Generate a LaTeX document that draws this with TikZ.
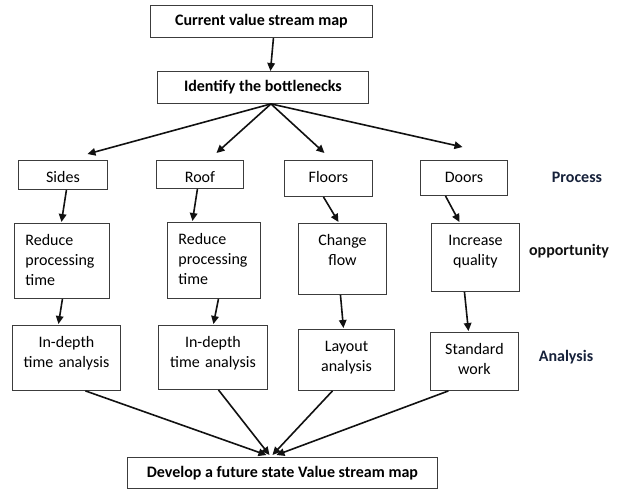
\documentclass[tikz,border=0pt]{standalone}
\usepackage{fontspec}
\setmainfont{Carlito}
\usetikzlibrary{arrows.meta}
\definecolor{Ink}{HTML}{111111}
\definecolor{Frame}{HTML}{3C3C3C}
\definecolor{Navy}{HTML}{16213A}

\begin{document}
\begin{tikzpicture}[x=1pt,y=-1pt,
          font=\fontsize{16}{20}\selectfont,
          box/.style={draw=Frame,line width=0.9pt,anchor=north west,align=center,
            inner xsep=0pt,inner ysep=6pt,text height=16pt},
          headbox/.style={draw=Frame,line width=0.9pt,anchor=north west,
            minimum height=32pt,font=\fontsize{16}{20}\selectfont\bfseries},
          side/.style={font=\fontsize{16}{20}\selectfont\bfseries,text=Navy},
          flow/.style={-{Triangle[length=8pt,width=7.5pt]},draw=Ink,line width=1.6pt}]
        \useasboundingbox (0,0) rectangle (617,489);
        % top of the chart
        \node[headbox,minimum width=222pt] (cur) at (150,5) {Current value stream map};
        \node[headbox,minimum width=211pt] (ident) at (157,71) {Identify the bottlenecks};
        % process row
        \node[box,text width=89pt,text depth=1pt] (sides) at (18,160) {Sides};
        \node[box,text width=87pt,text depth=0pt] (roof) at (156,160) {Roof};
        \node[box,text width=88pt,text depth=8pt] (floors) at (284,160) {Floors};
        \node[box,text width=87pt,text depth=7pt] (doors) at (420,160) {Doors};
        \node[side] (lproc) at (577,177) {Process};
        % opportunity row
        \node[box,align=left,text width=73pt,inner xsep=11pt,text depth=47pt] (red1)
          at (14,223) {Reduce\\processing\\time};
        \node[box,align=left,text width=71pt,inner xsep=11pt,text depth=48pt] (red2)
          at (167,222) {Reduce\\processing\\time};
        \node[box,text width=88pt,text depth=43pt] (change) at (298,223) {Change\\flow};
        \node[box,text width=88pt,text depth=40pt] (incr) at (431,223) {Increase\\quality};
        \node[side,text=Ink] (lopp) at (569,251) {opportunity};
        % analysis row
        \node[box,text width=108pt,text depth=37pt] (deep1) at (12,325) {In-depth\\time analysis};
        \node[box,text width=109pt,text depth=36pt] (deep2) at (158,325) {In-depth\\time analysis};
        \node[box,text width=96pt,text depth=33pt] (layout) at (298,329) {Layout\\analysis};
        \node[box,text width=88pt,text depth=30pt] (std) at (430,332) {Standard\\work};
        \node[side] (lana) at (566,357) {Analysis};
        \node[headbox,minimum width=310pt,minimum height=31pt] (dev) at (127,457)
          {Develop a future state Value stream map};
        % connectors
        \draw[flow] ([xshift=12pt]cur.south) -- ([xshift=7.5pt]ident.north);
        \draw[flow] ([xshift=8pt]ident.south) -- ([xshift=24.5pt,yshift=6pt]sides.north);
        \draw[flow] ([xshift=8pt]ident.south) -- ([xshift=16.5pt,yshift=7pt]roof.north);
        \draw[flow] ([xshift=8pt]ident.south) -- ([xshift=-4pt,yshift=7pt]floors.north);
        \draw[flow] ([xshift=8pt]ident.south) -- ([xshift=-1.5pt,yshift=13pt]doors.north);
        \draw[flow] ([xshift=3.5pt]sides.south) -- ([xshift=-0.5pt,yshift=1pt]red1.north);
        \draw[flow] ([xshift=-2.5pt]roof.south) -- ([xshift=-21.5pt,yshift=1pt]red2.north);
        \draw[flow] ([xshift=-5pt]floors.south) -- ([xshift=-4pt,yshift=1pt]change.north);
        \draw[flow] ([xshift=-18.5pt]doors.south) -- ([xshift=-16pt,yshift=1pt]incr.north);
        \draw[flow] ([xshift=0.5pt]red1.south) -- ([xshift=-8pt,yshift=1pt]deep1.north);
        \draw[flow] ([xshift=4.5pt]red2.south) -- ([xshift=0.5pt,yshift=1pt]deep2.north);
        \draw[flow] ([xshift=-2pt]change.south) -- ([xshift=-3pt,yshift=1pt]layout.north);
        \draw[flow] ([xshift=-11pt]incr.south) -- ([xshift=-6pt,yshift=1pt]std.north);
        \draw[flow] ([xshift=19pt]deep1.south) -- ([xshift=-16pt,yshift=2pt]dev.north);
        \draw[flow] ([xshift=5.5pt]deep2.south) -- ([xshift=-13pt,yshift=2pt]dev.north);
        \draw[flow] ([xshift=-14pt]layout.south) -- ([xshift=-10pt,yshift=2pt]dev.north);
        \draw[flow] ([xshift=-26pt]std.south) -- ([xshift=-6pt,yshift=2pt]dev.north);
      \end{tikzpicture}
\end{document}
